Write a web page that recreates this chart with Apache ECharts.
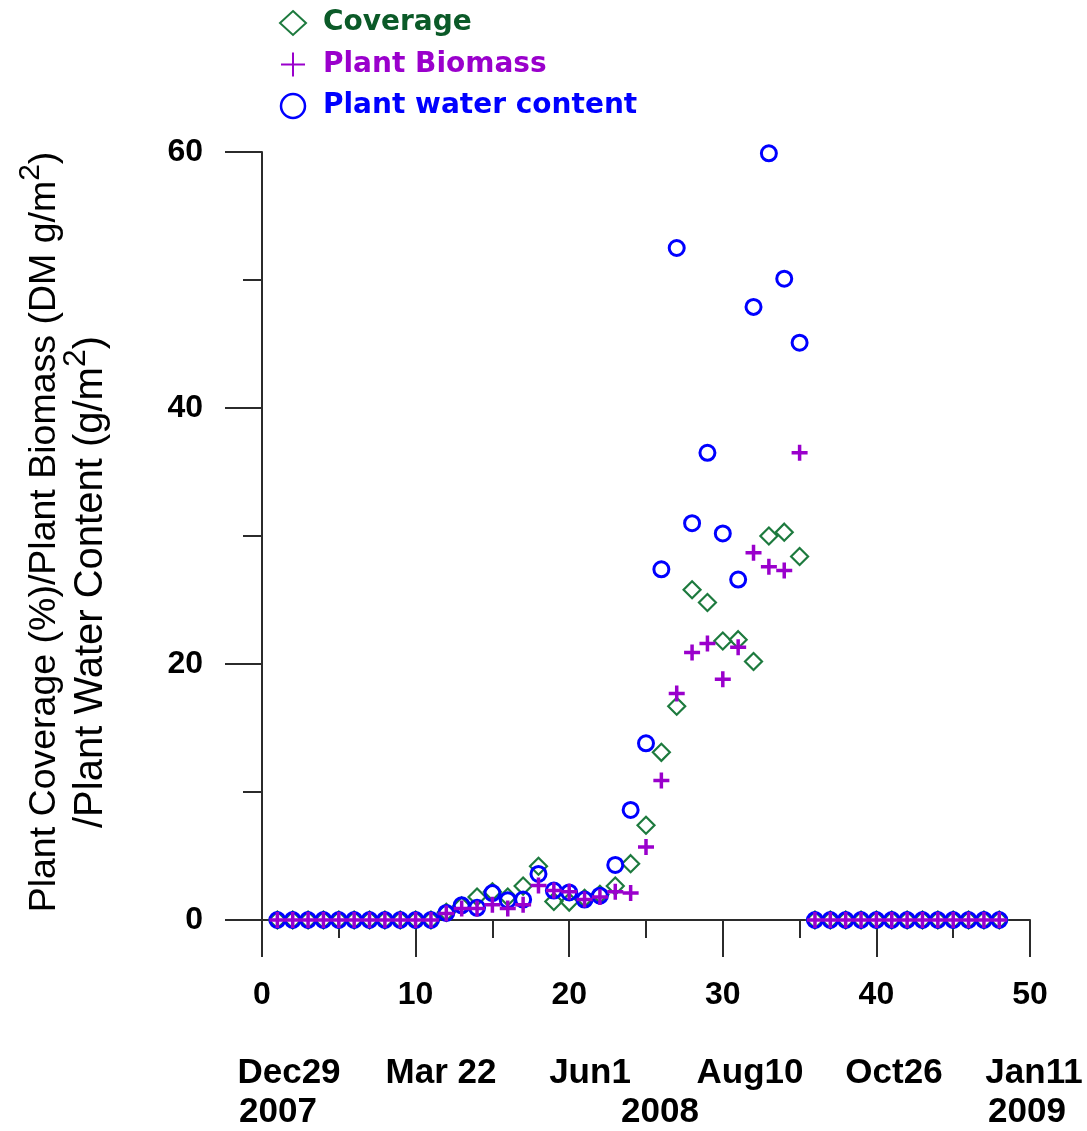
<!DOCTYPE html>
<html>
<head>
<meta charset="utf-8">
<script src="https://cdn.jsdelivr.net/npm/echarts@6/dist/echarts.min.js"></script>
<style>
  html, body { margin: 0; padding: 0; background: #ffffff; }
  #chart { width: 1087px; height: 1131px; }
</style>
</head>
<body>
<div id="chart"></div>
<script>
// Sampling number (x) for every observation
const sampleNo = [1, 2, 3, 4, 5, 6, 7, 8, 9, 10, 11, 12, 13, 14, 15, 16, 17, 18, 19, 20, 21, 22, 23, 24,
                  25, 26, 27, 28, 29, 30, 31, 32, 33, 34, 35, 36, 37, 38, 39, 40, 41, 42, 43, 44, 45, 46, 47, 48];

// Plant coverage (%)
const coverage = [0, 0, 0, 0, 0, 0, 0, 0, 0, 0, 0, 0.6, 1.1, 1.8, 2.2, 1.8, 2.65, 4.2, 1.45, 1.4, 1.7, 2.0, 2.65, 4.4,
                  7.4, 13.1, 16.7, 25.8, 24.8, 21.8, 21.9, 20.2, 30.0, 30.3, 28.4, 0, 0, 0, 0, 0, 0, 0, 0, 0, 0, 0, 0, 0];

// Plant biomass (DM g/m2)
const biomass = [0, 0, 0, 0, 0, 0, 0, 0, 0, 0, 0, 0.5, 0.9, 0.9, 1.2, 0.9, 1.2, 2.7, 2.3, 2.2, 1.6, 1.8, 2.2, 2.1,
                 5.7, 10.9, 17.7, 20.9, 21.6, 18.8, 21.3, 28.7, 27.6, 27.3, 36.5, 0, 0, 0, 0, 0, 0, 0, 0, 0, 0, 0, 0, 0];

// Plant water content (g/m2)
const waterContent = [0, 0, 0, 0, 0, 0, 0, 0, 0, 0, 0, 0.55, 1.15, 0.95, 2.1, 1.55, 1.6, 3.6, 2.3, 2.15, 1.6, 1.9, 4.3, 8.6,
                      13.8, 27.4, 52.5, 31.0, 36.5, 30.2, 26.6, 47.9, 59.9, 50.1, 45.1, 0, 0, 0, 0, 0, 0, 0, 0, 0, 0, 0, 0, 0];

// Calendar dates under the sampling axis
const dateLabels = ['Dec29', 'Mar 22', 'Jun1', 'Aug10', 'Oct26', 'Jan11'];
const yearLabels = ['2007', '2008', '2009'];

const seriesNames = ['Coverage', 'Plant Biomass', 'Plant water content'];

const GREEN = '#1d7a3e';
const GREEN_TEXT = '#0b5a28';
const PURPLE = '#9a00cc';
const BLUE = '#0000ff';
const AXIS = '#2b2b2b';

const pairs = (ys) => sampleNo.map((x, i) => [x, ys[i]]);

// Layout of the date rows (pixel centres)
const dateLabelX = [289, 441, 590, 750, 894, 1034];
const yearLabelX = [278, 660, 1027];

const PLUS_PATH = 'path://M10,0 L10,20 M0,10 L20,10';

const graphics = [];
const dateFont = 'bold 35px "Liberation Sans", Arial, sans-serif';
dateLabels.forEach((t, i) => {
  graphics.push({
    type: 'text', x: dateLabelX[i], y: 1073,
    style: { text: t, fill: '#000', font: dateFont,
             textAlign: 'center', textVerticalAlign: 'middle', align: 'center', verticalAlign: 'middle' }
  });
});
yearLabels.forEach((t, i) => {
  graphics.push({
    type: 'text', x: yearLabelX[i], y: 1112,
    style: { text: t, fill: '#000', font: dateFont,
             textAlign: 'center', textVerticalAlign: 'middle', align: 'center', verticalAlign: 'middle' }
  });
});

// Two-line rotated y-axis title
const FAMILY = '"Liberation Sans", Arial, sans-serif';
const richFor = (size) => ({
  t: { fontSize: size, fontFamily: FAMILY, lineHeight: Math.round(size * 1.55), fill: '#000', color: '#000' },
  s: { fontSize: Math.round(size * 0.8), fontFamily: FAMILY, lineHeight: Math.round(size * 0.82), verticalAlign: 'top', fill: '#000', color: '#000' }
});
graphics.push({
  type: 'text', x: 45, y: 532, rotation: Math.PI / 2,
  style: { text: '{t|Plant Coverage (%)/Plant Biomass (DM g/m}{s|2}{t|)}', rich: richFor(37.5), fill: '#000',
           textAlign: 'center', textVerticalAlign: 'middle', align: 'center', verticalAlign: 'middle' }
});
graphics.push({
  type: 'text', x: 91, y: 582, rotation: Math.PI / 2,
  style: { text: '{t|/Plant Water Content (g/m}{s|2}{t|)}', rich: richFor(40), fill: '#000',
           textAlign: 'center', textVerticalAlign: 'middle', align: 'center', verticalAlign: 'middle' }
});

const chart = echarts.init(document.getElementById('chart'), null, { renderer: 'canvas' });

chart.setOption({
  animation: false,
  backgroundColor: '#ffffff',
  grid: { left: 262, right: 57, top: 152, bottom: 211, containLabel: false },
  legend: {
    orient: 'vertical',
    left: 274, top: 3,
    itemWidth: 26, itemHeight: 24,
    itemGap: 11.5,
    textStyle: { fontFamily: '"DejaVu Sans", sans-serif', fontWeight: 'bold', fontSize: 28, lineHeight: 30,
                 padding: [0, 0, 0, 12] },
    data: [
      { name: seriesNames[0], textStyle: { color: GREEN_TEXT }, itemStyle: { borderWidth: 2 } },
      { name: seriesNames[1], textStyle: { color: PURPLE }, itemStyle: { borderWidth: 2 } },
      { name: seriesNames[2], textStyle: { color: BLUE }, itemStyle: { borderWidth: 2.5 } }
    ]
  },
  xAxis: {
    type: 'value', min: 0, max: 50, interval: 10,
    axisLine: { show: true, onZero: false, lineStyle: { color: AXIS, width: 2 } },
    axisTick: { show: true, length: 37, lineStyle: { color: AXIS, width: 2 } },
    minorTick: { show: true, splitNumber: 2, length: 18, lineStyle: { color: AXIS, width: 2 } },
    splitLine: { show: false },
    axisLabel: { margin: 59, color: '#000', fontSize: 32, fontWeight: 'bold', fontFamily: FAMILY }
  },
  yAxis: {
    type: 'value', min: 0, max: 60, interval: 20,
    axisLine: { show: true, onZero: false, lineStyle: { color: AXIS, width: 2 } },
    axisTick: { show: true, length: 37, lineStyle: { color: AXIS, width: 2 } },
    minorTick: { show: true, splitNumber: 2, length: 19, lineStyle: { color: AXIS, width: 2 } },
    splitLine: { show: false },
    axisLabel: { margin: 59, color: '#000', fontSize: 32, fontWeight: 'bold', fontFamily: FAMILY }
  },
  series: [
    {
      name: seriesNames[0], type: 'scatter', data: pairs(coverage),
      symbol: 'diamond', symbolSize: 17, z: 2,
      itemStyle: { color: 'rgba(255,255,255,0)', borderColor: GREEN, borderWidth: 2.2, opacity: 1 }
    },
    {
      name: seriesNames[2], type: 'scatter', data: pairs(waterContent),
      symbol: 'circle', symbolSize: 15, z: 3,
      itemStyle: { color: 'rgba(255,255,255,0)', borderColor: BLUE, borderWidth: 3, opacity: 1 }
    },
    {
      name: seriesNames[1], type: 'scatter', data: pairs(biomass),
      symbol: PLUS_PATH, symbolSize: 16, z: 4,
      itemStyle: { color: 'rgba(255,255,255,0)', borderColor: PURPLE, borderWidth: 3.5, opacity: 1 }
    }
  ],
  graphic: graphics
});
</script>
</body>
</html>
